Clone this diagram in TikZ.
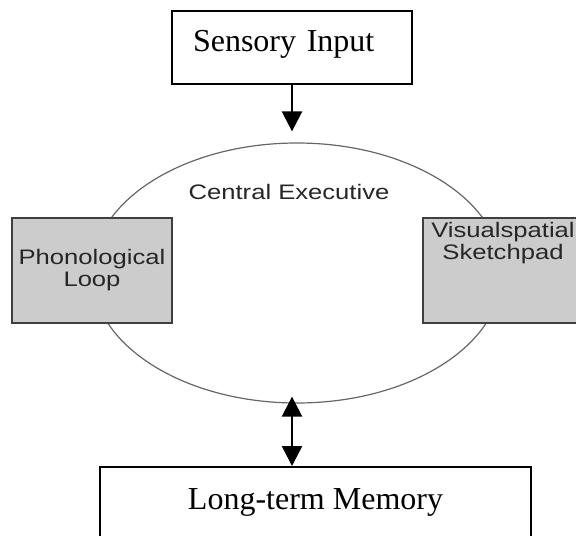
\documentclass[tikz,border=0pt]{standalone}
\usepackage{fontspec}
\setmainfont{Liberation Serif}
\newfontfamily\arialfont[FakeStretch=1.22]{Liberation Sans}
\usetikzlibrary{arrows.meta,positioning,shapes.geometric}

\begin{document}
\begin{tikzpicture}[
    x = 0.5pt, y = -0.5pt,
    >={Triangle[width=10pt,length=10pt]},
    textbox/.style = {
      draw,
      line width = 1pt,
      fill = white,
      font = \fontsize{16}{19}\selectfont,
      inner xsep = 10.5pt,
      text height = 10.7pt
    },
    graybox/.style = {
      draw = black!75,
      line width = 0.7pt,
      fill = black!20,
      minimum width = 80pt,
      minimum height = 52.5pt
    },
    sanstext/.style = {
      font = \arialfont\fontsize{10.5}{11}\selectfont,
      text = black!85,
      align = center,
      inner sep = 0pt
    },
    link/.style = {
      line width = 1.2pt
    }
  ]
  \clip (0,0) rectangle (576,535);

  \node[draw = black!60, line width = 0.6pt, ellipse, inner sep = 0pt,
    minimum width = 205pt, minimum height = 130pt] (exec) at (297,273) {};
  \node[sanstext, below = 20.5pt of exec.north, xshift = -4pt] (ce) {Central Executive};

  \node[textbox, anchor = north, inner ysep = 9.5pt, text depth = 6.8pt,
    text width = 99pt, align = left] (sensory) at (292,10) {Sensory Input};
  \node[textbox, anchor = north, inner ysep = 10.5pt, text depth = 20pt,
    minimum width = 215.5pt] (ltm) at (315.5,466) {Long-term Memory};

  \node[graybox, sanstext] (phon) at (92,270.5) {Phonological\\Loop};
  \node[graybox] (visuo) at (503,270.5) {};
  \node[sanstext, below = 2.5pt of visuo.north] (visuotext) {Visualspatial\\Sketchpad};

  \draw[link, ->, shorten >= 5.5pt] (sensory.south) -- (sensory.south |- exec.north);
  \draw[link, <->, shorten <= -3.5pt] (sensory.south |- exec.south) -- (sensory.south |- ltm.north);

\end{tikzpicture}
\end{document}
